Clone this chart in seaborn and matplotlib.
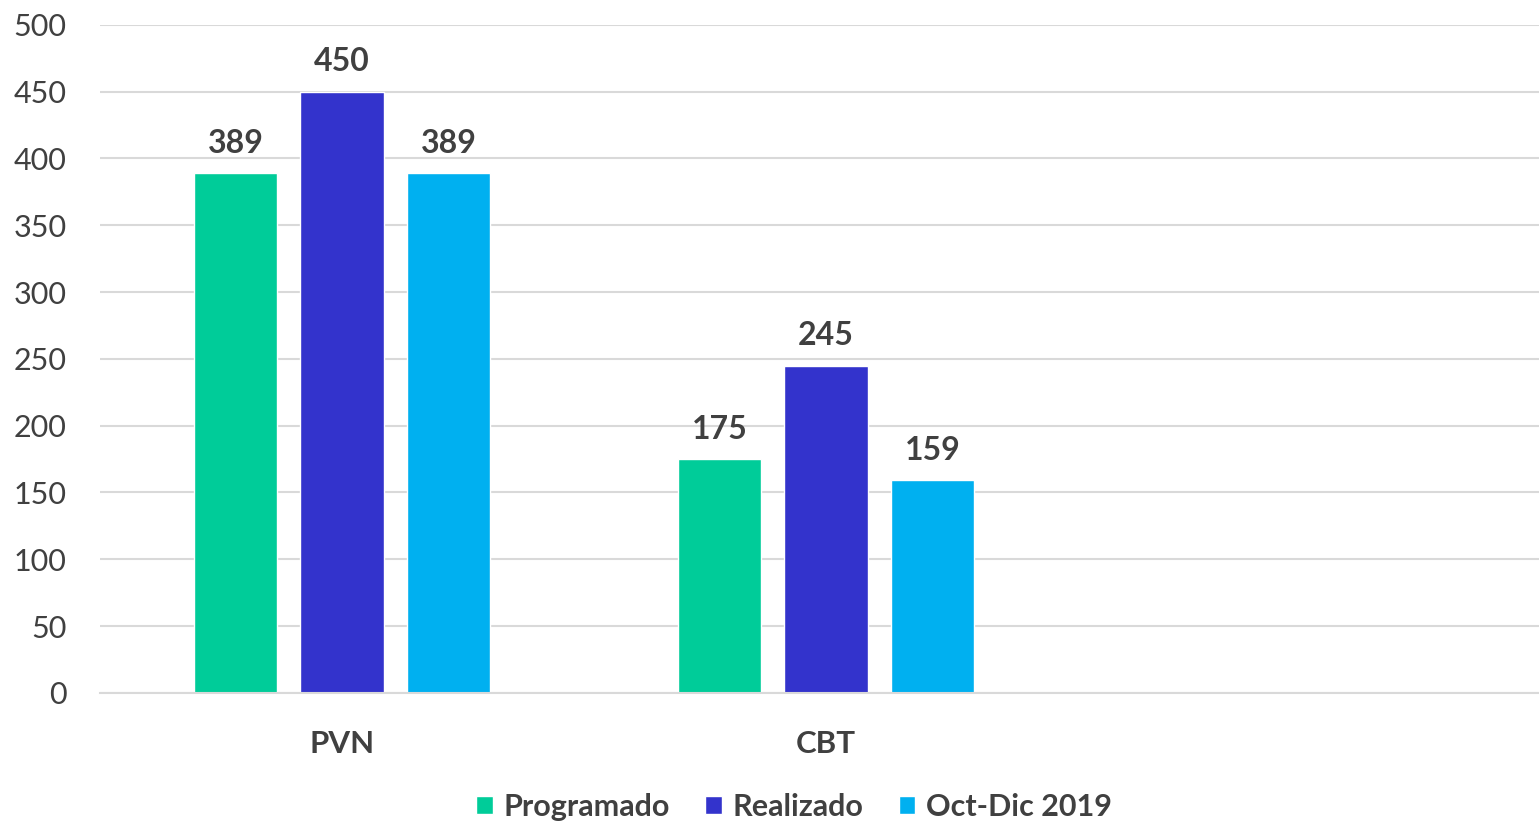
import pandas as pd
import matplotlib.pyplot as plt
import seaborn as sns

# datos
categorias = ["PVN", "CBT"]
orden = ["PVN", "CBT", ""]   # tercera categoría vacía
series = ["Programado", "Realizado", "Oct-Dic 2019"]
programado = [389, 175]
realizado = [450, 245]
oct_dic = [389, 159]
colores = ["#00CC99", "#3333CC", "#00B0F0"]

df = pd.DataFrame({
    "cat": categorias * 3,
    "serie": [series[0]] * 2 + [series[1]] * 2 + [series[2]] * 2,
    "valor": programado + realizado + oct_dic,
})

sns.set_style("white")
plt.rcParams["font.family"] = ["Lato", "DejaVu Sans"]

fig = plt.figure(figsize=(15.39, 8.23), dpi=100)
# el eje sigue un poco más allá del borde derecho, como en el original
ax = fig.add_axes([0.065, 0.158, 0.9435, 0.812])

sns.barplot(data=df, x="cat", y="valor", hue="serie", order=orden,
            hue_order=series, palette=colores, width=0.66, gap=0.215,
            saturation=1, ax=ax, legend=True)

for c in ax.containers:
    ax.bar_label(c, padding=11, fontsize=23, fontweight="bold", color="#404040")

ax.set_ylim(0, 500)
ax.set_yticks(range(0, 501, 50))
ax.yaxis.grid(True, color="#D9D9D9", linewidth=1.5)
ax.set_axisbelow(True)
for s in ["top", "right", "left"]:
    ax.spines[s].set_visible(False)
ax.spines["bottom"].set_color("#D9D9D9")
ax.spines["bottom"].set_linewidth(1.5)
ax.set_xlabel("")
ax.set_ylabel("")
ax.tick_params(axis="y", labelsize=22, labelcolor="#404040", length=0, pad=24)
ax.tick_params(axis="x", labelsize=22.5, labelcolor="#404040", length=0, pad=27)
for t in ax.get_xticklabels():
    t.set_fontweight("bold")

ax.legend_.remove()
handles, labels = ax.get_legend_handles_labels()
leg = fig.legend(handles, labels, loc="center", bbox_to_anchor=(0.516, 0.02),
                 ncol=3, frameon=False, handlelength=0.55, handleheight=0.55,
                 handletextpad=0.35, columnspacing=1.15,
                 prop={"size": 22, "weight": "bold"})
for t in leg.get_texts():
    t.set_color("#404040")

fig.savefig("out.png", dpi=100)
